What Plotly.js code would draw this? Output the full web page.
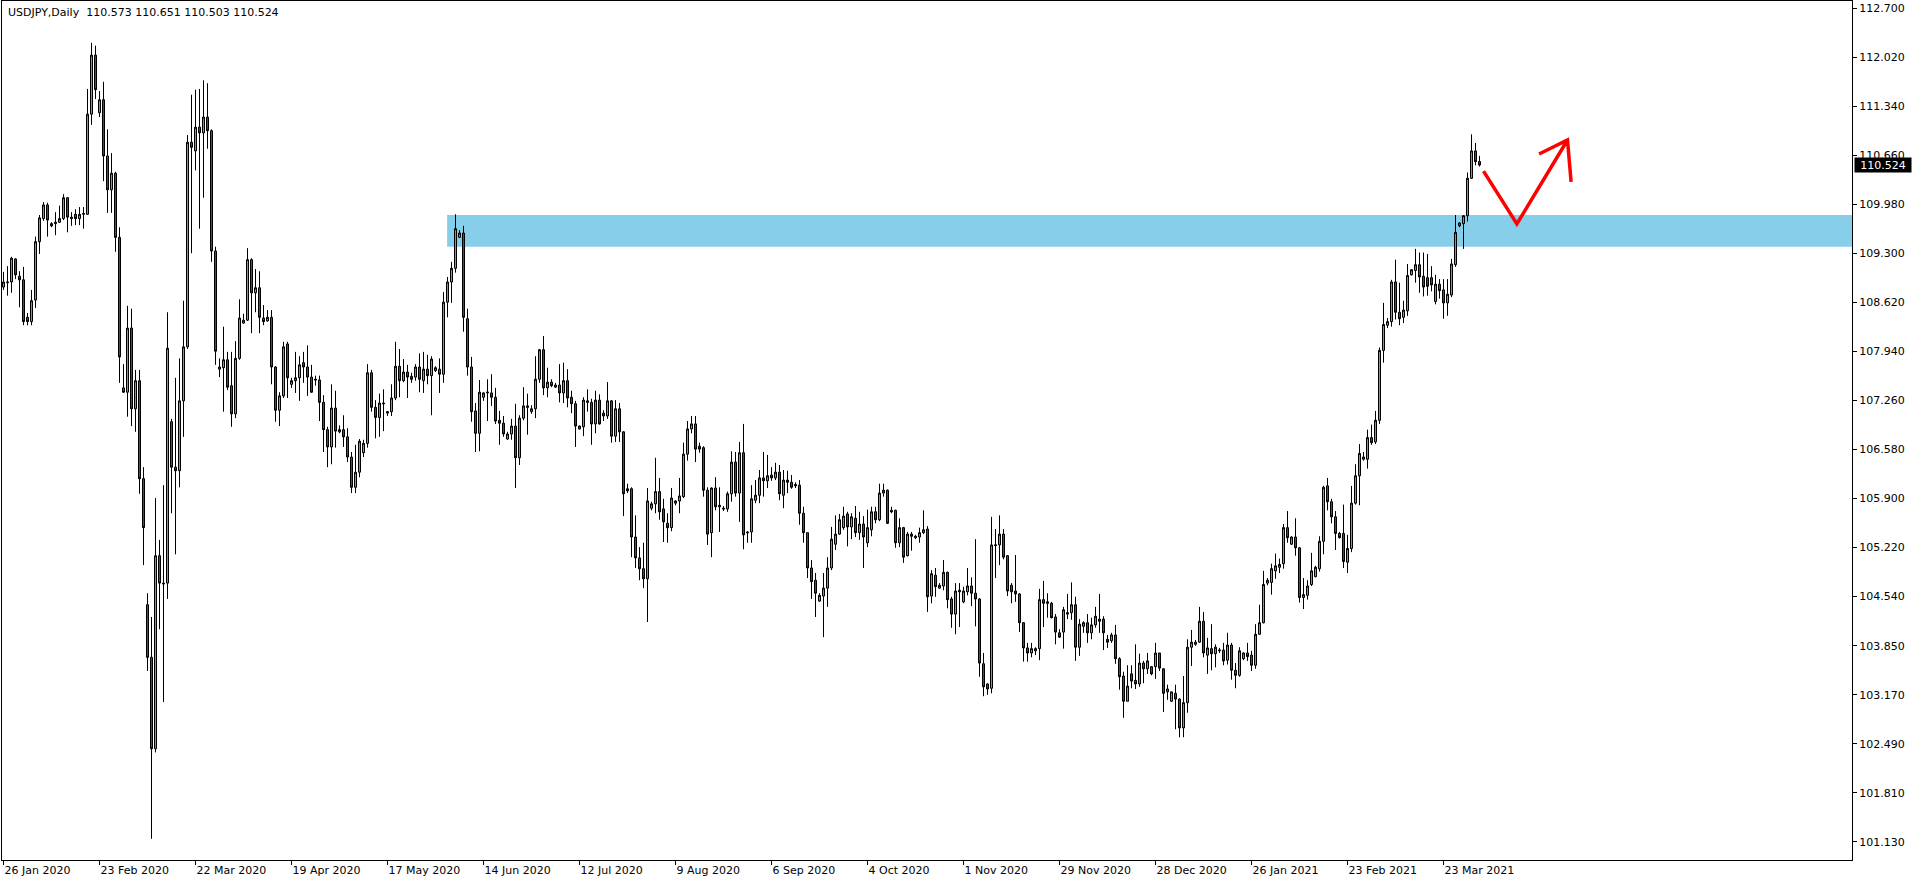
<!DOCTYPE html>
<html>
<head>
<meta charset="utf-8">
<script src="https://cdn.plot.ly/plotly-3.0.1.min.js"></script>
<style>
html,body{margin:0;padding:0;background:#ffffff;overflow:hidden}
#chart{width:1916px;height:884px}
</style>
</head>
<body>
<div id="chart"></div>
<script>
const symbol = "USDJPY,Daily";

const open = [
108.83,108.89,108.90,109.22,108.98,108.93,108.41,108.35,108.65,109.46,
109.78,109.97,109.71,109.71,109.73,109.78,110.07,109.80,109.84,109.78,
109.84,109.84,111.23,112.05,111.25,111.43,110.65,110.18,110.41,109.52,
107.43,107.37,108.26,107.14,107.53,106.17,104.42,103.69,102.42,105.10,
104.72,104.72,106.96,106.33,106.28,107.25,108.00,110.84,110.72,111.05,
110.97,111.19,111.00,109.33,107.69,107.71,107.82,107.46,107.07,107.84,
108.33,108.37,109.21,108.75,108.82,108.40,108.36,108.41,107.72,107.12,
107.32,108.04,107.48,107.53,107.57,107.78,107.72,107.58,107.55,107.54,
107.23,106.85,106.61,107.15,106.82,106.85,106.75,106.47,106.05,106.26,
106.53,106.66,107.64,107.16,107.02,107.22,107.08,107.10,107.29,107.73,
107.53,107.65,107.59,107.58,107.72,107.53,107.69,107.60,107.67,107.69,
107.62,108.62,108.90,109.09,109.52,109.58,108.39,107.72,107.11,106.80,
107.30,107.36,107.36,107.30,106.98,106.94,106.72,106.79,106.90,106.46,
107.01,107.18,107.10,107.14,107.55,107.96,107.43,107.51,107.44,107.47,
107.36,107.53,107.30,107.21,106.86,106.89,107.25,107.23,106.93,107.26,
107.08,107.04,107.25,106.76,107.14,106.82,106.03,106.03,105.36,105.07,
104.92,104.78,105.76,105.82,105.99,105.75,105.55,105.49,105.83,105.86,
105.92,106.51,106.86,106.93,106.62,106.60,106.01,105.42,106.04,105.78,
105.76,105.75,105.96,106.40,105.97,106.53,105.43,105.43,105.87,105.94,
106.18,106.14,106.22,106.18,106.26,105.94,106.15,106.12,106.09,106.08,
105.69,105.42,104.93,104.76,104.47,104.54,104.65,104.93,105.26,105.40,
105.49,105.68,105.50,105.62,105.42,105.54,105.28,105.46,105.71,105.60,
105.97,106.01,105.73,105.73,105.28,105.49,105.10,105.40,105.35,105.36,
105.42,105.47,104.54,104.83,104.65,104.68,104.87,104.50,104.29,104.62,
104.46,104.60,104.68,104.58,104.50,103.60,103.32,103.26,105.24,105.25,
105.40,105.10,104.69,104.61,104.57,104.17,103.82,103.75,103.78,103.81,
104.49,104.46,104.44,104.25,104.03,104.04,104.31,104.31,104.42,103.83,
104.12,104.17,104.03,104.14,104.22,104.22,103.94,103.92,104.00,103.67,
103.43,103.08,103.46,103.37,103.32,103.61,103.53,103.56,103.56,103.75,
103.53,103.21,103.08,103.19,103.11,102.71,103.06,103.83,103.87,103.90,
104.19,103.72,103.81,103.74,103.78,103.79,103.65,103.86,103.51,103.44,
103.67,103.75,103.72,103.58,104.01,104.17,104.72,104.73,104.89,104.94,
104.99,105.49,105.26,105.36,105.21,104.52,104.55,104.70,104.81,104.92,
105.30,106.07,105.85,105.64,105.41,105.41,105.01,105.20,105.83,106.21,
106.44,106.44,106.74,106.68,106.98,107.95,108.30,108.35,108.90,108.48,
108.41,108.50,109.00,109.06,109.14,108.98,108.96,108.96,108.63,108.87,
108.79,108.61,108.72,109.14,109.68,109.71,109.82,110.34,110.72,110.573
];

const high = [
109.04,109.12,109.25,109.23,109.05,109.11,108.47,108.79,109.53,109.83,
110.01,110.00,109.73,109.87,109.96,110.12,110.08,109.87,109.91,109.94,
109.94,111.58,112.22,112.18,111.55,111.68,111.02,110.69,110.43,109.66,
107.76,108.57,108.53,107.68,107.68,106.33,104.58,104.25,105.90,105.32,
106.08,108.48,107.00,107.57,107.84,108.64,110.94,111.50,111.57,111.58,
111.70,111.66,111.02,109.39,107.84,108.28,107.93,107.93,108.08,108.66,
108.46,109.37,109.23,109.08,109.05,108.58,108.51,108.51,107.73,107.37,
108.07,108.07,107.57,107.93,107.87,107.93,108.02,107.75,107.60,107.60,
107.33,106.89,107.48,107.39,106.91,107.05,106.87,106.54,106.64,106.72,
106.71,107.76,107.68,107.26,107.35,107.41,107.11,107.48,108.07,107.97,
107.83,107.75,107.64,107.76,107.91,107.93,107.89,107.87,107.73,107.84,
108.76,108.97,109.18,109.84,109.62,109.68,108.53,107.86,107.22,107.54,
107.37,107.55,107.62,107.43,107.11,107.04,106.82,107.00,107.21,107.05,
107.44,107.35,107.19,107.87,107.97,108.15,107.71,107.55,107.50,107.76,
107.78,107.69,107.39,107.25,106.91,107.30,107.41,107.28,107.39,107.34,
107.12,107.51,107.26,107.26,107.22,106.83,106.10,106.05,105.66,105.22,
105.28,106.04,105.85,106.46,106.18,105.89,105.69,106.04,105.87,106.18,
106.67,106.97,107.04,107.04,106.67,106.62,106.05,106.05,106.19,106.05,
105.79,105.99,106.55,106.54,106.68,106.93,105.44,106.08,106.15,106.29,
106.54,106.50,106.33,106.39,106.36,106.29,106.28,106.22,106.12,106.15,
105.78,105.42,105.04,104.86,104.58,104.86,105.08,105.50,105.66,105.68,
105.78,105.71,105.69,105.79,105.71,105.65,105.74,105.78,105.78,106.10,
106.10,106.02,105.78,105.74,105.62,105.50,105.43,105.43,105.39,105.49,
105.73,105.51,104.90,104.93,104.72,105.04,104.88,104.53,104.72,104.72,
104.67,104.93,104.80,105.33,104.51,103.75,103.33,105.64,105.47,105.66,
105.47,105.11,104.72,105.11,104.58,104.18,103.89,103.89,103.83,104.64,
104.75,104.58,104.46,104.29,104.08,104.39,104.57,104.73,104.53,104.22,
104.19,104.29,104.24,104.39,104.57,104.26,104.00,104.03,104.14,103.69,
103.49,103.58,103.58,103.87,103.74,103.64,103.75,103.57,103.89,103.75,
103.54,103.31,103.21,103.31,103.12,103.43,103.94,104.07,103.93,104.39,
104.32,103.96,104.15,103.87,103.82,103.89,104.03,103.89,103.61,103.83,
103.76,103.89,103.78,104.15,104.42,104.89,104.79,104.99,105.13,105.06,
105.54,105.72,105.37,105.62,105.22,104.79,104.76,105.14,104.96,105.37,
106.07,106.18,105.89,105.72,105.43,105.81,105.39,106.07,106.37,106.65,
106.54,106.85,106.92,107.11,107.99,108.61,108.40,108.93,109.21,108.89,
108.64,109.15,109.08,109.36,109.31,109.31,109.29,109.12,109.00,108.94,
108.94,108.94,109.22,109.83,109.73,109.83,110.42,110.95,110.83,110.651
];

const low = [
108.79,108.71,108.75,108.94,108.55,108.30,108.30,108.30,108.54,109.29,
109.75,109.53,109.66,109.55,109.72,109.76,109.59,109.68,109.69,109.69,
109.64,109.83,111.08,111.44,111.19,110.30,109.86,109.86,109.32,107.50,
107.36,107.03,106.90,106.82,105.96,104.97,103.50,101.17,102.37,104.08,
103.07,104.50,105.69,105.12,106.05,106.75,107.97,109.30,110.45,109.64,
110.07,110.75,109.18,107.75,107.58,107.10,107.40,106.89,107.01,107.82,
108.32,108.36,108.19,108.48,108.19,108.30,108.35,107.48,106.96,106.90,
107.29,107.29,107.43,107.36,107.25,107.50,107.32,107.36,107.46,106.97,
106.54,106.33,106.37,106.60,106.80,106.61,106.40,105.97,105.97,106.19,
106.47,106.60,107.10,106.73,106.75,106.83,107.04,107.04,107.26,107.30,
107.51,107.29,107.50,107.53,107.37,107.36,107.48,107.05,107.65,107.36,
107.50,108.41,108.61,109.03,109.51,108.21,107.60,106.96,106.54,106.55,
107.25,106.97,107.18,106.93,106.64,106.75,106.71,106.71,106.04,106.36,
106.98,106.78,107.07,107.01,107.50,107.33,107.30,107.44,107.43,107.23,
107.22,107.16,107.08,106.61,106.85,106.76,107.10,106.64,106.80,106.92,
106.97,107.00,106.67,106.68,106.68,105.65,105.97,105.08,104.93,104.76,
104.65,104.18,105.73,105.69,105.60,105.29,105.28,105.44,105.80,105.69,
105.90,106.42,106.80,106.40,106.53,105.92,105.25,105.08,105.73,105.43,
105.72,105.71,105.85,105.92,105.57,105.19,105.28,105.28,105.83,105.83,
105.92,106.04,106.14,106.15,105.87,105.76,105.97,106.03,106.04,105.53,
105.28,104.79,104.50,104.25,104.46,103.97,104.39,104.90,105.18,105.39,
105.46,105.23,105.33,105.36,105.32,104.93,105.22,105.37,105.55,105.58,
105.92,105.54,105.69,105.21,105.22,105.00,105.09,105.17,105.33,105.28,
105.40,104.32,104.44,104.53,104.64,104.62,104.37,104.10,104.01,104.11,
104.44,104.55,104.40,104.12,103.42,103.15,103.17,103.19,104.79,104.97,
105.05,104.54,104.44,104.46,104.04,103.63,103.63,103.69,103.72,103.65,
104.11,104.24,104.23,103.87,103.96,103.81,104.22,104.21,103.64,103.71,
104.03,103.89,103.94,104.10,104.03,103.79,103.82,103.89,103.60,103.24,
102.85,103.08,103.26,103.25,103.28,103.33,103.46,103.44,103.39,103.50,
102.93,103.10,103.07,102.69,102.58,102.58,102.92,103.57,103.85,103.89,
103.69,103.46,103.51,103.55,103.75,103.58,103.59,103.38,103.26,103.42,
103.65,103.64,103.50,103.53,104.00,104.16,104.69,104.56,104.78,104.86,
104.92,105.28,105.25,105.10,104.45,104.36,104.49,104.68,104.80,104.88,
105.12,105.73,105.55,105.18,105.34,104.93,104.86,105.15,105.81,105.80,
106.42,106.31,106.64,106.65,106.93,107.78,108.26,108.28,108.38,108.30,
108.33,108.43,108.99,108.89,108.75,108.70,108.71,108.77,108.59,108.67,
108.39,108.43,108.69,109.11,109.66,109.36,109.74,110.33,110.52,110.503
];

const close = [
108.90,108.90,109.23,109.00,108.93,108.35,108.35,108.64,109.46,109.79,
109.97,109.76,109.68,109.73,109.78,110.07,109.80,109.78,109.78,109.84,
109.85,111.23,112.05,111.57,111.43,110.65,110.18,110.41,109.52,107.86,
107.37,108.26,107.14,107.53,106.17,105.49,103.69,102.42,105.10,104.72,
104.71,107.98,106.33,106.28,107.25,108.00,110.84,110.77,111.05,110.97,
111.19,111.00,109.33,107.94,107.72,107.82,107.44,107.07,107.84,108.40,
108.37,109.21,108.75,108.82,108.41,108.35,108.41,107.72,107.12,107.32,
108.00,107.57,107.53,107.57,107.75,107.72,107.58,107.37,107.54,107.23,
106.85,106.61,107.15,106.83,106.85,106.75,106.47,106.05,106.26,106.69,
106.66,107.64,107.16,107.02,107.22,107.21,107.10,107.29,107.73,107.53,
107.65,107.58,107.55,107.72,107.55,107.69,107.60,107.83,107.71,107.62,
108.62,108.90,109.09,109.64,109.58,108.41,107.72,107.10,106.80,107.37,
107.36,107.37,107.30,106.97,106.94,106.79,106.79,106.90,106.46,107.01,
107.18,107.16,107.14,107.55,107.96,107.43,107.51,107.46,107.47,107.36,
107.53,107.29,107.21,106.90,106.90,107.26,107.23,106.93,107.26,106.93,
107.04,107.25,106.76,107.14,106.82,105.96,106.00,105.36,105.07,104.92,
104.78,105.86,105.82,105.99,105.71,105.57,105.49,105.90,105.86,105.93,
106.51,106.86,106.93,106.58,106.58,106.01,105.40,106.04,105.78,105.80,
105.75,105.96,106.40,105.97,106.53,105.39,105.42,105.89,105.94,106.18,
106.14,106.21,106.18,106.26,105.96,106.15,106.12,106.05,106.07,105.69,
105.42,104.93,104.74,104.58,104.55,104.65,104.93,105.33,105.40,105.60,
105.65,105.50,105.64,105.42,105.54,105.36,105.49,105.71,105.60,105.97,
106.01,105.55,105.71,105.28,105.49,105.08,105.40,105.37,105.37,105.42,
105.46,104.53,104.85,104.67,104.69,104.87,104.49,104.29,104.61,104.60,
104.61,104.68,104.58,104.50,103.61,103.28,103.25,105.25,105.25,105.40,
105.08,104.61,104.60,104.57,104.17,103.82,103.75,103.81,103.81,104.49,
104.44,104.44,104.24,104.04,103.97,104.35,104.29,104.42,103.83,104.15,
104.17,104.03,104.14,104.26,104.19,104.03,103.90,104.00,103.67,103.42,
103.08,103.29,103.36,103.32,103.61,103.53,103.64,103.46,103.75,103.54,
103.19,103.25,103.21,103.11,102.71,103.06,103.83,103.90,103.90,104.19,
103.75,103.82,103.74,103.83,103.79,103.64,103.86,103.51,103.44,103.78,
103.75,103.70,103.58,104.01,104.17,104.70,104.76,104.92,104.96,104.98,
105.49,105.35,105.36,105.21,104.52,104.56,104.68,104.89,104.94,105.30,
106.05,105.85,105.64,105.41,105.35,105.02,105.20,105.83,106.21,106.52,
106.47,106.74,106.67,106.98,107.95,108.31,108.35,108.90,108.48,108.39,
108.51,108.99,109.07,109.14,108.97,108.83,108.84,108.86,108.87,108.78,
108.61,108.73,109.15,109.59,109.72,109.82,110.34,110.72,110.57,110.524
];

// date axis: bar index of each labelled bar and its label
const dateTickBars = [0,24,48,72,96,120,144,168,192,216,240,264,288,312,336,360];
const dateTickLabels = ["26 Jan 2020","23 Feb 2020","22 Mar 2020","19 Apr 2020","17 May 2020",
  "14 Jun 2020","12 Jul 2020","9 Aug 2020","6 Sep 2020","4 Oct 2020","1 Nov 2020",
  "29 Nov 2020","28 Dec 2020","26 Jan 2021","23 Feb 2021","23 Mar 2021"];

// price axis ticks
const priceTicks = [112.700,112.020,111.340,110.660,109.980,109.300,108.620,107.940,107.260,
  106.580,105.900,105.220,104.540,103.850,103.170,102.490,101.810,101.130];
const priceTickLabels = ["112.700","112.020","111.340","110.660","109.980","109.300","108.620",
  "107.940","107.260","106.580","105.900","105.220","104.540","103.850","103.170","102.490",
  "101.810","101.130"];

// resistance/support zone drawn on the chart
const zoneStartBar = 110.9;
const zoneLow = 109.39;
const zoneHigh = 109.83;

// hand-drawn projection arrow (bar index, price)
const arrowBars   = [370.0, 378.35, 391.0];
const arrowPrices = [110.44, 109.705, 110.871];
const headBars    = [383.9, 391.0, 391.9];
const headPrices  = [110.677, 110.871, 110.29];

if (!(open.length === high.length && high.length === low.length && low.length === close.length)) {
  throw new Error("length mismatch " + open.length + " " + high.length + " " + low.length + " " + close.length);
}

const n = close.length;
const bars = open.map((_, i) => i);
const xRange = [-0.375, 462.125];
const yRange = [100.876, 112.801];
const FONT = "DejaVu Sans, Verdana, sans-serif";

const trace = {
  type: 'candlestick',
  x: bars, open: open, high: high, low: low, close: close,
  increasing: {line: {color: '#000000', width: 1}, fillcolor: '#22dd22'},
  decreasing: {line: {color: '#000000', width: 1}, fillcolor: '#e01010'},
  whiskerwidth: 0,
  hoverinfo: 'skip',
  showlegend: false
};

const arrowPath = 'M' + arrowBars.map((b, i) => b + ',' + arrowPrices[i]).join(' L') +
  ' M' + headBars.map((b, i) => b + ',' + headPrices[i]).join(' L');

const lastO = open[n-1], lastH = high[n-1], lastL = low[n-1], lastC = close[n-1];

const layout = {
  width: 1916, height: 884,
  margin: {l: 2, r: 64, t: 1, b: 24, pad: 0},
  paper_bgcolor: '#ffffff', plot_bgcolor: '#ffffff',
  showlegend: false,
  hovermode: false,
  boxgap: 0.5, boxgroupgap: 0,
  font: {family: FONT, size: 11, color: '#000000'},
  xaxis: {
    type: 'linear',
    range: xRange,
    rangeslider: {visible: false},
    showgrid: false, zeroline: false,
    showline: true, linecolor: '#000000', linewidth: 1, mirror: true,
    ticks: 'outside', ticklen: 4, tickwidth: 1, tickcolor: '#000000',
    tickmode: 'array', tickvals: dateTickBars, ticktext: dateTickLabels,
    ticklabelposition: 'outside right',
    tickfont: {family: FONT, size: 11, color: '#000000'},
    fixedrange: true
  },
  yaxis: {
    side: 'right',
    range: yRange,
    showgrid: false, zeroline: false,
    showline: true, linecolor: '#000000', linewidth: 1, mirror: true,
    ticks: 'outside', ticklen: 4, tickwidth: 1, tickcolor: '#000000',
    tickmode: 'array', tickvals: priceTicks, ticktext: priceTickLabels,
    tickfont: {family: FONT, size: 11, color: '#000000'},
    fixedrange: true
  },
  shapes: [
    {type: 'rect', xref: 'x', yref: 'y', x0: zoneStartBar, x1: xRange[1], y0: zoneLow, y1: zoneHigh,
     fillcolor: '#87CEEB', line: {width: 0}, layer: 'below'},
    {type: 'path', xref: 'x', yref: 'y', path: arrowPath,
     line: {color: '#ff0000', width: 3.5}, layer: 'above'}
  ],
  annotations: [
    {xref: 'paper', yref: 'paper', x: 0, y: 1, xanchor: 'left', yanchor: 'top',
     xshift: 5, yshift: -4, showarrow: false, borderpad: 0,
     text: symbol + '\u00a0\u00a0' + lastO.toFixed(3) + ' ' + lastH.toFixed(3) + ' ' + lastL.toFixed(3) + ' ' + lastC.toFixed(3),
     font: {family: FONT, size: 11, color: '#000000'}},
    {xref: 'paper', yref: 'y', x: 1, y: lastC, xanchor: 'left', yanchor: 'middle',
     xshift: 2, showarrow: false, borderpad: 0, width: 56, height: 14, align: 'center',
     bgcolor: '#000000', text: lastC.toFixed(3),
     font: {family: FONT, size: 11, color: '#ffffff'}}
  ]
};

Plotly.newPlot('chart', [trace], layout, {staticPlot: true, displayModeBar: false, responsive: false});
</script>
</body>
</html>
